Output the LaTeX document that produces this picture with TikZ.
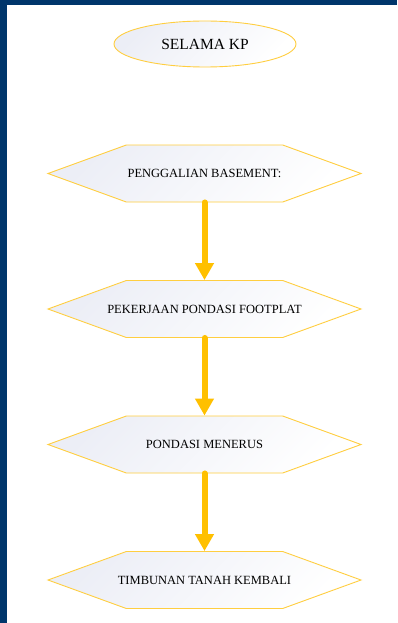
\documentclass[tikz,border=0pt]{standalone}
\usepackage{fontspec}
\setmainfont{Liberation Serif}
\usetikzlibrary{positioning,arrows.meta,shapes.geometric,shapes.symbols}
\definecolor{framec}{RGB}{0,54,107}
\definecolor{linec}{RGB}{255,206,64}
\definecolor{arrowc}{RGB}{255,192,0}
\definecolor{fillc}{RGB}{236,238,246}
\newcommand{\steptext}[1]{\makebox[0pt]{#1}}
\tikzset{
    x=1pt,
    y=-1pt,
    startnode/.style = {
        draw=linec,
        shape=ellipse,
        minimum width=182pt,
        minimum height=46pt,
        line width=0.9pt,
        top color=fillc,
        bottom color=white,
        shading angle=45,
        text=black,
        font=\fontsize{15.5}{18}\selectfont
    },
    stepbox/.style = {
        draw=linec,
        shape=signal,
        signal to=west and east,
        signal pointer angle=40,
        minimum width=313pt,
        minimum height=57pt,
        inner sep=0pt,
        line width=0.9pt,
        top color=fillc,
        bottom color=white,
        shading angle=45,
        text=black,
        font=\fontsize{12.5}{15}\selectfont
    },
    flow/.style = {
        draw=arrowc,
        line width=6pt,
        line cap=round,
        -{Triangle[width=18pt,length=17pt]}
    },
}

\begin{document}
\begin{tikzpicture}
            \useasboundingbox (0,0) rectangle (397,623);
            \fill[white] (0,0) rectangle (397,623);
            \fill[framec] (0,0) rectangle (397,5);
            \fill[framec] (0,0) rectangle (7,623);

            \node[startnode] (selama) at (205,44) {SELAMA KP};
            \node[stepbox] (galian) at (204.5,173.5) {\steptext{PENGGALIAN BASEMENT:}};
            \node[stepbox] (footplat) at (204.5,309) {\steptext{PEKERJAAN PONDASI FOOTPLAT}};
            \node[stepbox] (menerus) at (204.5,444.5) {\steptext{PONDASI MENERUS}};
            \node[stepbox] (timbunan) at (204.5,580) {\steptext{TIMBUNAN TANAH KEMBALI}};

            \path[flow] (galian.south) -- (footplat.north);
            \path[flow] (footplat.south) -- (menerus.north);
            \path[flow] (menerus.south) -- (timbunan.north);

        \end{tikzpicture}
\end{document}
